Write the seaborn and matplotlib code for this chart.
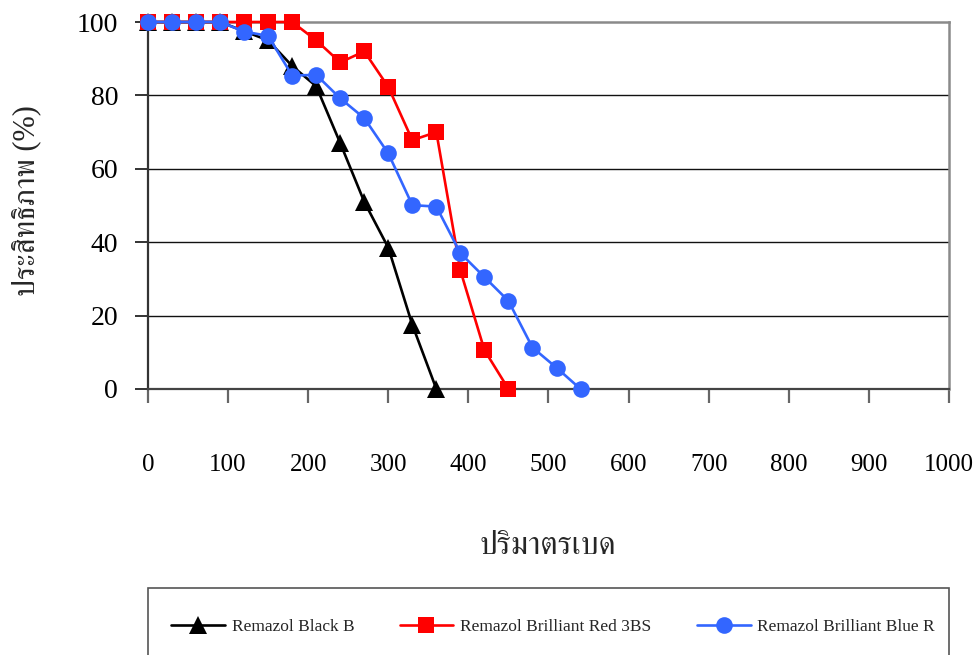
import numpy as np
import pandas as pd
import matplotlib
matplotlib.use("Agg")
import matplotlib.pyplot as plt
from matplotlib import font_manager
from matplotlib.patches import Rectangle
import seaborn as sns

# Bed volume and removal efficiency (%) for three reactive dyes
volume_black = [0, 30, 60, 90, 120, 150, 180, 210, 240, 270, 300, 330, 360]
eff_black = [100, 100, 100, 100, 97.5, 95, 88, 82.5, 67, 51, 38.5, 17.5, 0]

volume_red = [0, 30, 60, 90, 120, 150, 180, 210, 240, 270, 300, 330, 360, 390, 420, 450]
eff_red = [100, 100, 100, 100, 100, 100, 100, 95, 89, 92, 82.3, 67.8, 70, 32.3, 10.6, 0]

volume_blue = [0, 30, 60, 90, 120, 150, 180, 210, 240, 270, 300, 330, 360, 390, 420, 450, 480, 510, 540]
eff_blue = [100, 100, 100, 100, 97.4, 96.2, 85.4, 85.6, 79.2, 73.8, 64.2, 50.1, 49.7, 37, 30.5, 24, 11.3, 5.8, 0]

series_names = ["Remazol Black B", "Remazol Brilliant Red 3BS", "Remazol Brilliant Blue R"]
x_ticks = [0, 100, 200, 300, 400, 500, 600, 700, 800, 900, 1000]
y_ticks = [0, 20, 40, 60, 80, 100]

x_label = "ปริมาตรเบด"
y_label = "ประสิทธิภาพ (%)"


def find_thai_family():
    """Return the name of an installed font family that covers Thai script."""
    try:
        from fontTools.ttLib import TTFont
    except Exception:
        return None
    found = []
    for entry in font_manager.fontManager.ttflist:
        try:
            font = TTFont(entry.fname, fontNumber=0, lazy=True)
            cmap = font.getBestCmap()
        except Exception:
            continue
        if cmap and ord("ป") in cmap and ord("ิ") in cmap:
            found.append(entry.name)
    if not found:
        return None
    for key in ("Serif", "Loma", "Garuda", "Norasi", "Thai"):
        for name in found:
            if key in name:
                return name
    return found[0]


sns.set_style("white")
serif = "Liberation Serif"
thai = find_thai_family()
thai_fams = [serif, thai, "DejaVu Sans"] if thai else [serif, "DejaVu Sans"]
plt.rcParams["font.family"] = [serif, "DejaVu Sans"]

W, H = 979, 655
fig = plt.figure(figsize=(W / 100, H / 100), dpi=100)
ax = fig.add_axes([148 / W, 1 - 389 / H, (949 - 148) / W, (389 - 22) / H])

frames = [
    pd.DataFrame({"vol": volume_black, "eff": eff_black}),
    pd.DataFrame({"vol": volume_red, "eff": eff_red}),
    pd.DataFrame({"vol": volume_blue, "eff": eff_blue}),
]
colors = ["#000000", "#ff0000", "#3366ff"]
markers = ["^", "s", "o"]
msizes = [12.5, 11.3, 12]

for i, (df, c, m, ms, name) in enumerate(zip(frames, colors, markers, msizes, series_names)):
    sns.lineplot(data=df, x="vol", y="eff", ax=ax, color=c, marker=m,
                 markersize=ms, markeredgecolor=c, markeredgewidth=0,
                 linewidth=1.9, label=name, clip_on=False, zorder=3 + i,
                 legend=False)

ax.set_xlim(0, 1000)
ax.set_ylim(0, 100)
ax.set_xticks(x_ticks)
ax.set_yticks(y_ticks)
ax.set_xticklabels([str(v) for v in x_ticks], fontsize=18, family=serif)
ax.set_yticklabels([str(v) for v in y_ticks], fontsize=20, family=serif)

# horizontal gridlines
for v in y_ticks[1:-1]:
    ax.axhline(v, color="#111111", linewidth=1.0, zorder=1)

ax.spines["top"].set_color("#8a8a8a")
ax.spines["top"].set_linewidth(1.8)
ax.spines["right"].set_color("#8a8a8a")
ax.spines["right"].set_linewidth(1.8)
ax.spines["left"].set_color("#333333")
ax.spines["left"].set_linewidth(1.6)
ax.spines["bottom"].set_color("#444444")
ax.spines["bottom"].set_linewidth(1.6)

ax.tick_params(axis="x", direction="out", length=10, width=1.6, color="#666666",
               pad=37, bottom=True, labelcolor="black")
ax.tick_params(axis="y", direction="out", length=9.5, width=1.4, color="#333333",
               pad=12, left=True, labelcolor="black")

ax.set_xlabel("")
ax.set_ylabel("")
fig.text(548 / W, 1 - 547 / H, x_label, ha="center", va="center",
         fontsize=23, family=thai_fams)
fig.text(26 / W, 1 - 201 / H, y_label, ha="center", va="center",
         rotation=90, fontsize=22, family=thai_fams)

# legend box along the bottom
fig.patches.append(Rectangle((148 / W, -0.05), (949 - 148) / W, 1 - 588 / H + 0.05,
                             transform=fig.transFigure, facecolor="white",
                             edgecolor="#555555", linewidth=1.2, zorder=0))
handles = ax.get_lines()[:3]
leg = fig.legend(handles, series_names, loc="center left",
                 bbox_to_anchor=(171 / W, 1 - 627 / H), frameon=False,
                 ncol=3, handlelength=3.1, handletextpad=0.4,
                 columnspacing=2.6, borderpad=0, borderaxespad=0,
                 prop={"family": serif, "size": 12.5})

fig.savefig("out.png", dpi=100)
